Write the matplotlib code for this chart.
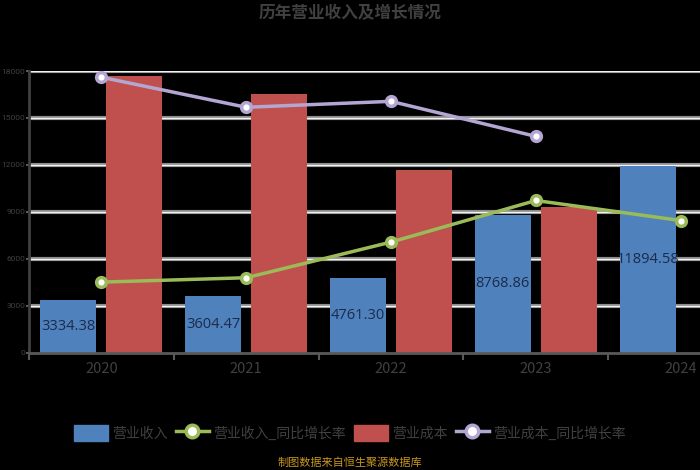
import matplotlib.pyplot as plt
from matplotlib.lines import Line2D
from matplotlib.patches import Patch
import numpy as np

plt.rcParams['font.family'] = ['Noto Sans CJK SC', 'DejaVu Sans']

# data
years = ["2020", "2021", "2022", "2023", "2024"]
revenue = [3334.38, 3604.47, 4761.30, 8768.86, 11894.58]
cost = [17690, 16500, 11660, 9300]
revenue_growth = [22.5, 23.9, 35.3, 48.6, 42.2]
cost_growth = [88.0, 78.4, 80.3, 69.1]
yticks = [0, 3000, 6000, 9000, 12000, 15000, 18000]

title = "历年营业收入及增长情况"
names = ["营业收入", "营业收入_同比增长率", "营业成本", "营业成本_同比增长率"]
footer = "制图数据来自恒生聚源数据库"

blue = "#4F81BD"
red = "#C0504D"
green = "#9BBB59"
purple = "#B3A6D3"
txt = "#404040"

fig = plt.figure(figsize=(7, 4.7), dpi=100, facecolor="black")
ax = fig.add_axes([29 / 700, 117.5 / 470, 724 / 700, 281.5 / 470])
ax.set_facecolor("black")

x = np.arange(len(years))
w = 0.386
off = 0.228

# gridlines
for t in yticks[1:]:
    ax.axhline(t, color="#8c8c8c", lw=3, zorder=1)
    ax.axhline(t, color="#f2f2f2", lw=1, zorder=1.1)

bars = ax.bar(x - off, revenue, w, color=blue, zorder=2)
ax.bar(x[:len(cost)] + off, cost, w, color=red, zorder=2)

for b, v in zip(bars, revenue):
    t = ax.text(b.get_x() + b.get_width() / 2, v / 2, f"{v:.2f}",
                ha="center", va="center", fontsize=10.5, color="#1c2b4a",
                family=["Open Sans", "DejaVu Sans"], zorder=3)
    t.set_clip_path(b)

ax.set_xlim(-0.5, len(years) - 0.5)
ax.set_ylim(0, 18000)
ax.set_yticks(yticks)
ax.set_yticklabels([str(t) for t in yticks])
ax.set_xticks(x)
ax.set_xticklabels(years)
ax.set_xticks(np.arange(len(years) + 1) - 0.5, minor=True)
ax.tick_params(axis="x", which="major", length=0, pad=7, labelsize=10.5, labelcolor=txt)
ax.tick_params(axis="x", which="minor", length=5, color="#595959", width=1.5)
ax.tick_params(axis="y", length=2, color="#595959", width=1.5, labelsize=6,
               labelcolor=txt, pad=0.5)
for lab in ax.get_yticklabels():
    lab.set_family(["Roboto", "DejaVu Sans"])
for s in ["top", "right"]:
    ax.spines[s].set_visible(False)
ax.spines["left"].set_color("#404040")
ax.spines["left"].set_linewidth(2)
ax.spines["bottom"].set_color("#595959")
ax.spines["bottom"].set_linewidth(2)

ax2 = ax.twinx()
ax2.set_ylim(0, 90)
ax2.axis("off")
ax2.plot(x, revenue_growth, color=green, lw=2.5, marker="o", ms=7,
         mfc="white", mec=green, mew=2.5, zorder=4)
ax2.plot(x[:len(cost_growth)], cost_growth, color=purple, lw=2.5, marker="o", ms=7,
         mfc="white", mec=purple, mew=2.5, zorder=4)

fig.text(0.5, 1 - 13 / 470, title, ha="center", va="center", fontsize=12,
         fontweight="bold", color=txt)

handles = [
    Patch(facecolor=blue, edgecolor=blue),
    Line2D([0], [0], color=green, lw=2.5, marker="o", ms=9, mfc="white", mec=green, mew=2.5),
    Patch(facecolor=red, edgecolor=red),
    Line2D([0], [0], color=purple, lw=2.5, marker="o", ms=9, mfc="white", mec=purple, mew=2.5),
]
leg = fig.legend(handles, names, loc="center", bbox_to_anchor=(0.5, 1 - 433 / 470),
                 ncol=4, frameon=False, fontsize=10, handlelength=2.4, handleheight=1.5,
                 handletextpad=0.3, columnspacing=0.6)
for t in leg.get_texts():
    t.set_color(txt)

fig.text(0.5, 1 - 463 / 470, footer, ha="center", va="center", fontsize=8,
         color="#C8961E")

fig.savefig("out.png", dpi=100, facecolor="black")
